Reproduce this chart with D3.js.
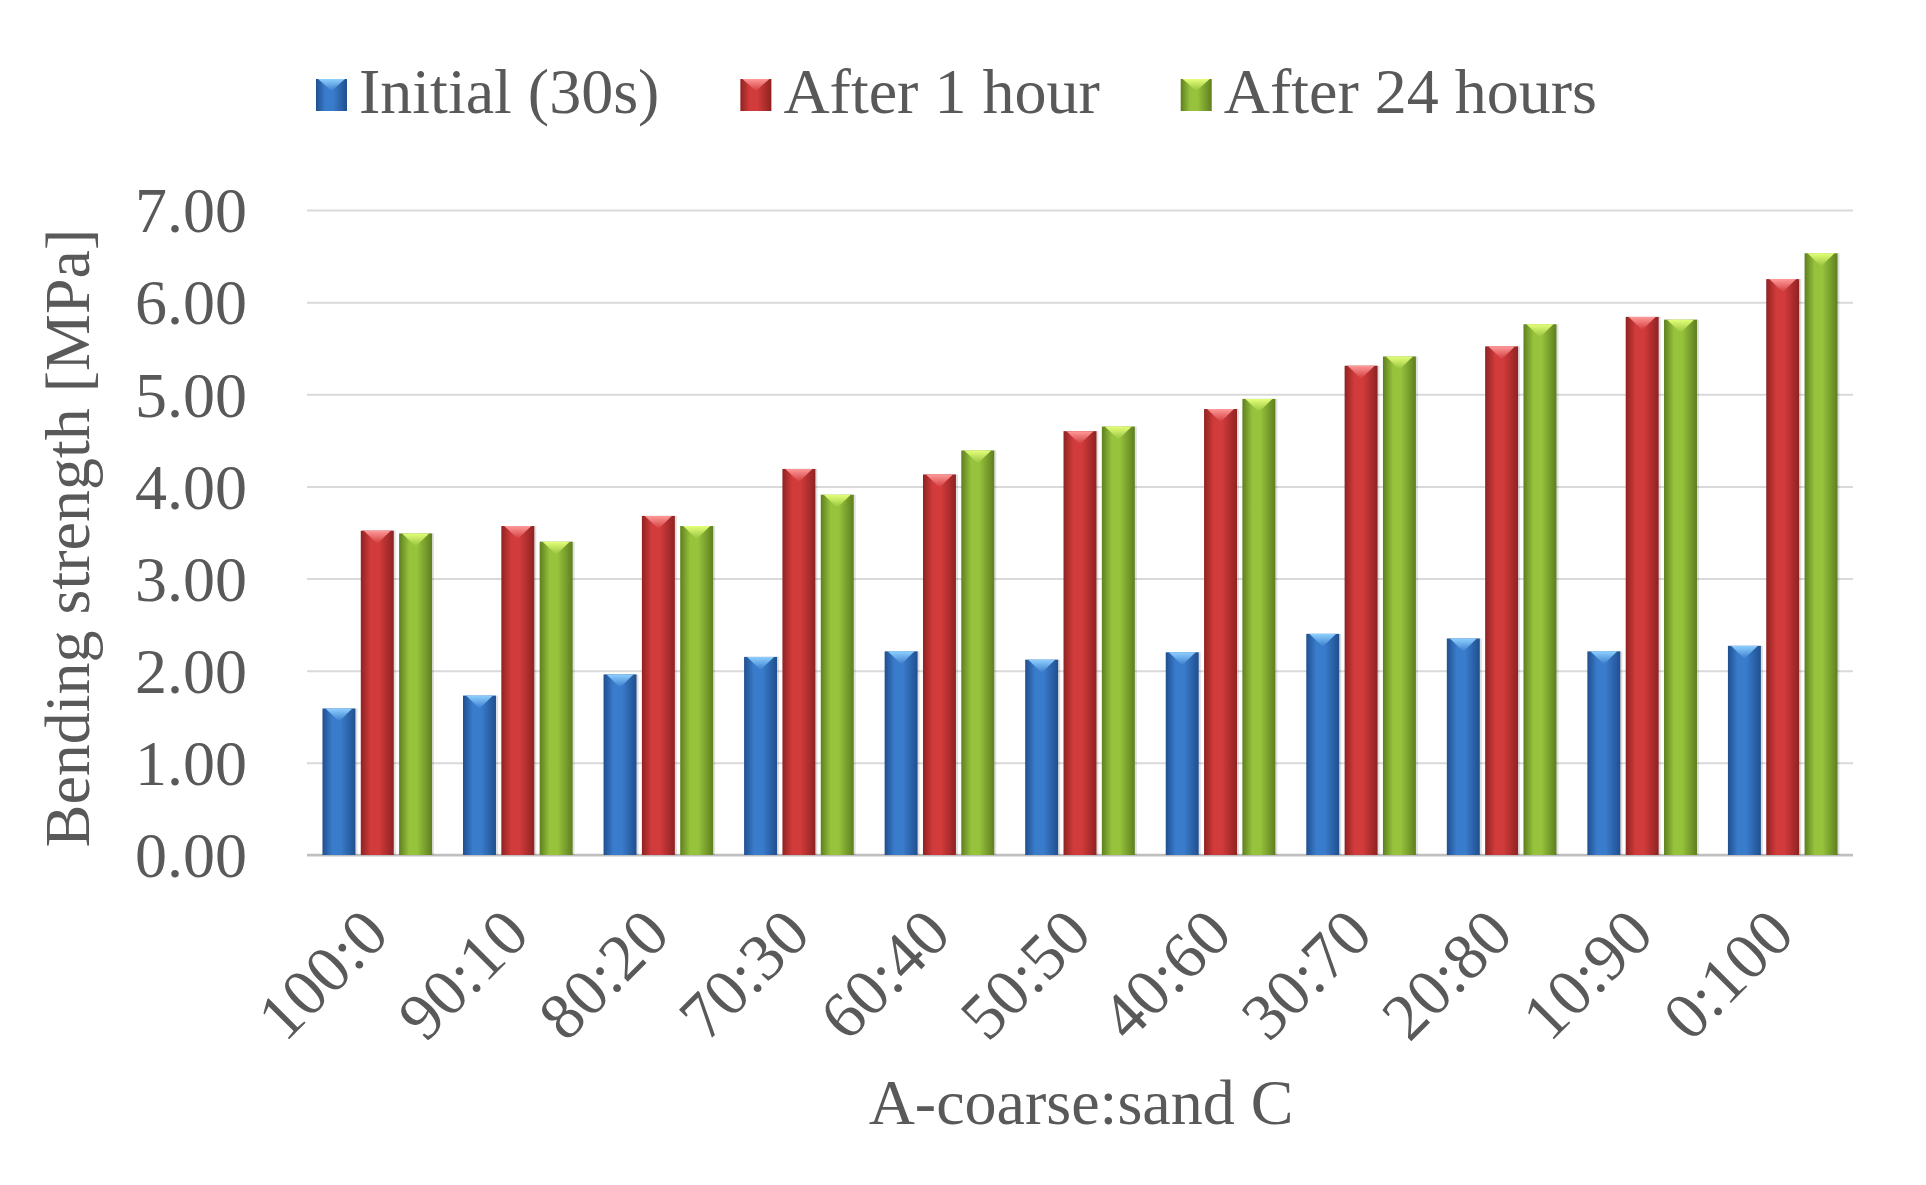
<!DOCTYPE html>
<html>
<head>
<meta charset="utf-8">
<script src="https://cdn.jsdelivr.net/npm/d3@7"></script>
<style>
  body { margin: 0; background: #fff; }
  text { font-family: "Liberation Serif", "Times New Roman", serif; fill: #595959; }
</style>
</head>
<body>
<div id="chart"></div>
<script>
const categories = ['100:0', '90:10', '80:20', '70:30', '60:40', '50:50', '40:60', '30:70', '20:80', '10:90', '0:100'];
const initial = [1.59, 1.73, 1.96, 2.15, 2.21, 2.12, 2.20, 2.40, 2.35, 2.21, 2.27];
const after1h = [3.52, 3.57, 3.68, 4.19, 4.13, 4.60, 4.84, 5.31, 5.52, 5.84, 6.25];
const after24h = [3.49, 3.40, 3.57, 3.91, 4.39, 4.65, 4.95, 5.41, 5.76, 5.81, 6.53];
const seriesNames = ['Initial (30s)', 'After 1 hour', 'After 24 hours'];
const yTicks = [0, 1, 2, 3, 4, 5, 6, 7];

// colours per series: [edge dark, centre, highlight]
const palette = [
  ['#1f4f8f', '#3a7ccc', '#8fd0ff'],
  ['#8f2222', '#d23b3b', '#ff9a9a'],
  ['#5e7f1f', '#96c23c', '#e4ff7a']
];

const W = 1926, H = 1185;
const plotLeft = 307, plotRight = 1853, plotTop = 210, plotBottom = 855;

const svg = d3.select('#chart')
  .append('svg')
  .attr('width', W)
  .attr('height', H);

const defs = svg.append('defs');
palette.forEach((c, i) => {
  const g = defs.append('linearGradient')
    .attr('id', 'bar' + i)
    .attr('x1', '0%').attr('x2', '100%').attr('y1', '0%').attr('y2', '0%');
  g.append('stop').attr('offset', '0%').attr('stop-color', c[0]);
  g.append('stop').attr('offset', '30%').attr('stop-color', c[1]);
  g.append('stop').attr('offset', '55%').attr('stop-color', c[1]);
  g.append('stop').attr('offset', '100%').attr('stop-color', c[0]);
  const t = defs.append('linearGradient')
    .attr('id', 'tip' + i)
    .attr('x1', '0%').attr('x2', '0%').attr('y1', '0%').attr('y2', '100%');
  t.append('stop').attr('offset', '0%').attr('stop-color', c[2]);
  t.append('stop').attr('offset', '100%').attr('stop-color', c[1]);
});

const x0 = d3.scaleBand()
  .domain(categories)
  .range([plotLeft, plotRight])
  .paddingInner(0.22)
  .paddingOuter(0.11);

const x1 = d3.scaleBand()
  .domain([0, 1, 2])
  .range([0, x0.bandwidth()])
  .paddingInner(0.14);

const y = d3.scaleLinear()
  .domain([0, 7])
  .range([plotBottom, plotTop]);

// grid + y labels
const yAxis = svg.append('g')
  .attr('transform', `translate(${plotLeft},0)`)
  .call(d3.axisLeft(y)
    .tickValues(yTicks)
    .tickSize(-(plotRight - plotLeft))
    .tickPadding(60)
    .tickFormat(d3.format('.2f')));
yAxis.select('.domain').remove();
yAxis.selectAll('line')
  .attr('stroke', '#d9d9d9')
  .attr('stroke-width', 2);
yAxis.selectAll('text')
  .attr('font-size', '64px')
  .attr('dy', '0.34em');

svg.append('line')
  .attr('x1', plotLeft).attr('x2', plotRight)
  .attr('y1', y(0)).attr('y2', y(0))
  .attr('stroke', '#bfbfbf')
  .attr('stroke-width', 2.5);

const rows = categories.map((c, i) => ({ cat: c, values: [initial[i], after1h[i], after24h[i]] }));

const groups = svg.selectAll('.group')
  .data(rows)
  .enter()
  .append('g')
  .attr('class', 'group')
  .attr('transform', d => `translate(${x0(d.cat)},0)`);

const bars = groups.selectAll('.bar')
  .data(d => d.values.map((v, s) => ({ v, s })))
  .enter()
  .append('g')
  .attr('class', 'bar');

bars.append('rect')
  .attr('x', d => x1(d.s) + 2)
  .attr('y', d => y(d.v))
  .attr('width', x1.bandwidth())
  .attr('height', d => y(0) - y(d.v))
  .attr('fill', '#000')
  .attr('opacity', 0.12);

bars.append('rect')
  .attr('x', d => x1(d.s))
  .attr('y', d => y(d.v))
  .attr('width', x1.bandwidth())
  .attr('height', d => y(0) - y(d.v))
  .attr('fill', d => `url(#bar${d.s})`);

bars.append('path')
  .attr('d', d => {
    const bx = x1(d.s), bw = x1.bandwidth(), by = y(d.v);
    return `M${bx + 3},${by} L${bx + bw - 3},${by} L${bx + bw / 2},${by + 13} Z`;
  })
  .attr('fill', d => `url(#tip${d.s})`);

// x axis labels
const xAxis = svg.append('g')
  .attr('transform', `translate(0,${plotBottom})`)
  .call(d3.axisBottom(x0).tickSize(0));
xAxis.select('.domain').remove();
xAxis.selectAll('text')
  .attr('font-size', '66px')
  .attr('y', 0)
  .attr('dy', 0)
  .attr('transform', 'translate(14,82) rotate(-45)')
  .style('text-anchor', 'end');

// axis titles
svg.append('text')
  .attr('x', 1081)
  .attr('y', 1124)
  .attr('text-anchor', 'middle')
  .attr('font-size', '64px')
  .text('A-coarse:sand C');

svg.append('text')
  .attr('transform', `translate(89,538) rotate(-90)`)
  .attr('text-anchor', 'middle')
  .attr('font-size', '64px')
  .text('Bending strength [MPa]');

// legend
const legend = svg.append('g').attr('transform', 'translate(316,0)');
let lx = 0;
seriesNames.forEach((name, i) => {
  const item = legend.append('g').attr('transform', `translate(${lx},0)`);
  item.append('rect')
    .attr('x', 0).attr('y', 79)
    .attr('width', 31).attr('height', 32)
    .attr('fill', `url(#bar${i})`);
  item.append('path')
    .attr('d', 'M2,79 L29,79 L15.5,91 Z')
    .attr('fill', `url(#tip${i})`);
  const t = item.append('text')
    .attr('x', 43)
    .attr('y', 113)
    .attr('font-size', '64px')
    .text(name);
  lx += 43 + t.node().getComputedTextLength() + 81;
});
</script>
</body>
</html>
